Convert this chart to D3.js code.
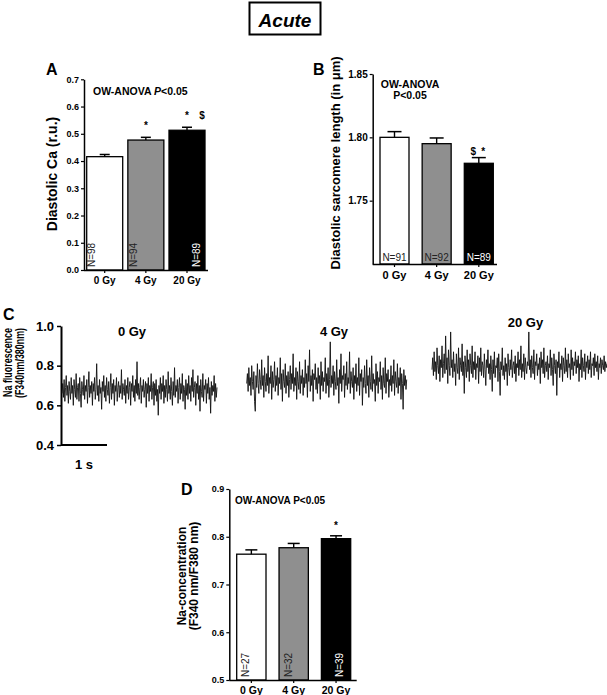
<!DOCTYPE html>
<html><head><meta charset="utf-8">
<script src="https://cdn.jsdelivr.net/npm/d3@7"></script>
<style>
body{margin:0;background:#fff}
svg{display:block}
text{font-family:"Liberation Sans",Arial,Helvetica,sans-serif}
</style>
</head><body>
<svg id="chart" width="607" height="695"></svg>
<script>
// ---------------- DATA ----------------
const doses = ["0 Gy", "4 Gy", "20 Gy"];

// Panel A: diastolic Ca
const caMean = [0.416, 0.477, 0.513];
const caErr  = [0.008, 0.010, 0.011];
const caN    = ["N=98", "N=94", "N=89"];
const caTicks = [0.0, 0.1, 0.2, 0.3, 0.4, 0.5, 0.6, 0.7];
const caSig  = [[], ["*"], ["*", "$"]];

// Panel B: diastolic sarcomere length
const slMean = [1.800, 1.795, 1.7795];
const slErr  = [0.0045, 0.0045, 0.0045];
const slN    = ["N=91", "N=92", "N=89"];
const slTicks = [1.75, 1.80, 1.85];
const slSig  = [[], [], ["$", "*"]];

// Panel D: Na concentration
const naMean = [0.7635, 0.777, 0.796];
const naErr  = [0.009, 0.009, 0.006];
const naN    = ["N=27", "N=32", "N=39"];
const naTicks = [0.5, 0.6, 0.7, 0.8, 0.9];
const naSig  = [[], [], ["*"]];

// Panel C: Na fluorescence traces (F340/F380)
const traceTicks = [0.4, 0.6, 0.8, 1.0];
const traceLabels = ["0 Gy", "4 Gy", "20 Gy"];
const trace0 = [
0.66,0.71,0.64,0.73,0.62,0.69,0.75,0.65,0.70,0.61,0.72,0.67,0.63,0.74,0.66,0.70,0.60,0.73,0.68,0.64,
0.76,0.63,0.69,0.71,0.62,0.74,0.66,0.59,0.72,0.68,0.65,0.75,0.63,0.70,0.67,0.73,0.61,0.69,0.77,0.64,
0.70,0.66,0.72,0.60,0.71,0.67,0.74,0.63,0.68,0.81,0.65,0.70,0.62,0.73,0.66,0.69,0.58,0.72,0.67,0.75,
0.64,0.70,0.62,0.74,0.68,0.65,0.72,0.61,0.69,0.76,0.63,0.71,0.66,0.73,0.60,0.70,0.67,0.74,0.62,0.69,
0.72,0.64,0.70,0.66,0.78,0.63,0.71,0.68,0.65,0.73,0.61,0.70,0.66,0.74,0.63,0.69,0.72,0.60,0.71,0.67,
0.75,0.64,0.70,0.62,0.73,0.66,0.82,0.65,0.71,0.63,0.69,0.74,0.61,0.70,0.67,0.73,0.64,0.68,0.72,0.59,
0.71,0.66,0.74,0.62,0.70,0.67,0.76,0.63,0.69,0.72,0.60,0.71,0.65,0.73,0.62,0.68,0.55,0.70,0.66,0.74,
0.63,0.71,0.67,0.75,0.61,0.70,0.64,0.73,0.68,0.62,0.77,0.66,0.70,0.63,0.74,0.67,0.60,0.72,0.65,0.79,
0.64,0.70,0.67,0.73,0.61,0.69,0.74,0.63,0.71,0.66,0.76,0.62,0.70,0.68,0.58,0.73,0.65,0.71,0.63,0.75,
0.66,0.70,0.62,0.74,0.67,0.78,0.64,0.69,0.72,0.60,0.71,0.66,0.75,0.63,0.70,0.57,0.73,0.67,0.64,0.76,
0.62,0.70,0.68,0.73,0.61,0.71,0.66,0.74,0.63,0.69,0.56,0.72,0.65,0.70,0.67,0.75,0.62,0.71,0.64,0.69];
const trace4 = [
0.71,0.76,0.67,0.79,0.70,0.74,0.65,0.80,0.72,0.68,0.77,0.62,0.57,0.75,0.69,0.81,0.71,0.66,0.78,0.73,
0.68,0.83,0.70,0.75,0.64,0.79,0.72,0.67,0.76,0.70,0.85,0.66,0.74,0.71,0.80,0.63,0.77,0.69,0.73,0.82,
0.67,0.75,0.70,0.79,0.65,0.74,0.71,0.84,0.68,0.76,0.62,0.78,0.72,0.69,0.81,0.66,0.75,0.70,0.77,0.64,
0.73,0.80,0.68,0.76,0.71,0.86,0.67,0.74,0.70,0.79,0.63,0.77,0.72,0.68,0.82,0.66,0.75,0.71,0.78,0.65,
0.74,0.69,0.83,0.71,0.76,0.64,0.80,0.72,0.88,0.67,0.75,0.70,0.78,0.62,0.76,0.73,0.81,0.68,0.74,0.66,
0.79,0.71,0.75,0.63,0.82,0.70,0.77,0.67,0.74,0.72,0.84,0.66,0.76,0.70,0.79,0.64,0.73,0.92,0.69,0.75,
0.71,0.80,0.65,0.77,0.72,0.68,0.83,0.70,0.74,0.61,0.78,0.71,0.86,0.67,0.75,0.73,0.80,0.64,0.76,0.70,
0.82,0.68,0.74,0.71,0.87,0.66,0.77,0.72,0.69,0.79,0.63,0.75,0.71,0.81,0.67,0.74,0.70,0.84,0.65,0.76,
0.72,0.78,0.60,0.74,0.69,0.80,0.71,0.66,0.83,0.70,0.75,0.64,0.79,0.72,0.68,0.85,0.67,0.76,0.71,0.73,
0.62,0.81,0.70,0.77,0.66,0.74,0.72,0.82,0.68,0.75,0.63,0.79,0.71,0.69,0.84,0.66,0.76,0.72,0.78,0.64,
0.73,0.70,0.80,0.67,0.75,0.71,0.83,0.65,0.77,0.72,0.69,0.81,0.66,0.74,0.70,0.79,0.63,0.76,0.71,0.58,
0.78,0.70,0.75,0.68,0.73];
const trace20 = [
0.78,0.84,0.75,0.87,0.77,0.82,0.73,0.89,0.80,0.76,0.85,0.72,0.83,0.79,0.90,0.74,0.81,0.86,0.76,0.95,
0.78,0.84,0.71,0.88,0.80,0.75,0.97,0.79,0.83,0.74,0.87,0.77,0.81,0.70,0.86,0.79,0.76,0.89,0.73,0.84,
0.80,0.77,0.91,0.75,0.82,0.66,0.85,0.79,0.74,0.88,0.77,0.83,0.72,0.86,0.80,0.76,0.90,0.74,0.82,0.78,
0.87,0.73,0.81,0.79,0.85,0.71,0.84,0.77,0.89,0.75,0.82,0.80,0.74,0.86,0.78,0.70,0.83,0.79,0.88,0.76,
0.81,0.73,0.85,0.78,0.67,0.83,0.76,0.87,0.74,0.80,0.79,0.84,0.72,0.86,0.77,0.65,0.82,0.78,0.89,0.75,
0.80,0.73,0.84,0.77,0.81,0.70,0.86,0.79,0.75,0.83,0.78,0.88,0.74,0.80,0.82,0.76,0.85,0.72,0.81,0.79,
0.87,0.75,0.83,0.78,0.90,0.74,0.81,0.77,0.86,0.73,0.84,0.79,0.76,0.82,0.80,0.97,0.78,0.83,0.74,0.85,
0.79,0.76,0.88,0.73,0.82,0.80,0.86,0.75,0.81,0.78,0.84,0.71,0.87,0.79,0.83,0.76,0.89,0.74,0.80,0.82,
0.77,0.85,0.73,0.81,0.79,0.88,0.75,0.84,0.78,0.70,0.86,0.80,0.76,0.83,0.65,0.82,0.79,0.87,0.74,0.81,
0.78,0.85,0.72,0.84,0.80,0.76,0.89,0.77,0.83,0.74,0.86,0.79,0.81,0.73,0.88,0.78,0.84,0.75,0.82,0.80,
0.87,0.76,0.83,0.79,0.85,0.72,0.81,0.78,0.88,0.74,0.84,0.80,0.77,0.86,0.73,0.82,0.79,0.85,0.76,0.83,
0.78,0.87,0.74,0.81,0.80,0.84,0.75,0.86,0.79,0.82,0.77,0.85,0.73,0.81,0.79,0.84,0.76,0.83,0.80,0.78,
0.85,0.77,0.82,0.79,0.81];

// ---------------- DRAWING ----------------
const svg = d3.select("#chart");
const FONT = '"Liberation Sans",Arial,Helvetica,sans-serif';
const barFills = ["#ffffff", "#8f8f8f", "#000000"];
const nColors = ["#222", "#222", "#fff"];

// Title
svg.append("rect").attr("x", 249.5).attr("y", 2.5).attr("width", 71).attr("height", 32)
  .attr("fill", "none").attr("stroke", "#000").attr("stroke-width", 2);
svg.append("text").attr("x", 285).attr("y", 26.5).attr("text-anchor", "middle")
  .attr("font-size", 19).attr("font-weight", "bold").attr("font-style", "italic").text("Acute");

function barPanel(o) {
  const g = svg.append("g");
  const y = d3.scaleLinear().domain(o.domain).range([o.yBottom, o.yTop]);
  const x = d3.scaleBand().domain(doses).range([o.x0, o.x1]).paddingInner(o.pad).paddingOuter(0);
  const bw = x.bandwidth();

  g.selectAll("rect.bar").data(o.mean).join("rect").attr("class", "bar")
    .attr("x", (d, i) => x(doses[i])).attr("y", d => y(d))
    .attr("width", bw).attr("height", d => o.yBottom - y(d))
    .attr("fill", (d, i) => barFills[i]).attr("stroke", "#000").attr("stroke-width", 1.3);

  o.mean.forEach((m, i) => {
    const cx = x(doses[i]) + bw / 2;
    g.append("line").attr("x1", cx).attr("x2", cx).attr("y1", y(m)).attr("y2", y(m + o.err[i]))
      .attr("stroke", "#000").attr("stroke-width", 1.4);
    g.append("line").attr("x1", cx - o.cap).attr("x2", cx + o.cap)
      .attr("y1", y(m + o.err[i])).attr("y2", y(m + o.err[i]))
      .attr("stroke", "#000").attr("stroke-width", 1.5);
  });

  const ya = g.append("g").attr("transform", `translate(${o.axisX},0)`)
    .call(d3.axisLeft(y).tickValues(o.ticks).tickFormat(d3.format(o.fmt)).tickSize(3).tickSizeOuter(0).tickPadding(2));
  ya.select(".domain").attr("stroke-width", 1.5);
  ya.selectAll(".tick line").attr("stroke-width", 1.2);
  ya.selectAll(".tick text").attr("font-family", FONT).attr("font-weight", "bold")
    .attr("font-size", o.tickFont).attr("fill", "#000");

  const xa = g.append("g").attr("transform", `translate(0,${o.yBottom})`)
    .call(d3.axisBottom(x).tickSize(3).tickSizeOuter(0).tickPadding(o.xPad));
  xa.select(".domain").attr("d", `M${o.axisX},0.5H${o.axisEnd}`).attr("stroke-width", 1.5);
  xa.selectAll(".tick line").attr("stroke-width", 1.2);
  xa.selectAll(".tick text").attr("font-family", FONT).attr("font-weight", "bold")
    .attr("font-size", o.xFont).attr("fill", "#000");

  o.n.forEach((t, i) => {
    const left = x(doses[i]);
    if (o.nRotate) {
      g.append("text").attr("transform", `translate(${left + o.nOff[i]},${o.yBottom - 3}) rotate(-90)`)
        .attr("dominant-baseline", "central").attr("font-size", o.nFont).attr("fill", nColors[i]).text(t);
    } else {
      g.append("text").attr("x", left + bw / 2).attr("y", o.yBottom - 3)
        .attr("text-anchor", "middle").attr("font-size", o.nFont).attr("fill", nColors[i]).text(t);
    }
  });

  o.sig.forEach((arr, i) => {
    arr.forEach((s, k) => {
      g.append("text").attr("x", x(doses[i]) + bw / 2 + o.sigOff[i][k]).attr("y", o.sigY[i])
        .attr("text-anchor", "middle").attr("font-weight", "bold").attr("font-size", o.sigFont).text(s);
    });
  });
  return g;
}

// ---- Panel A ----
barPanel({
  domain: [0, 0.7], yBottom: 270, yTop: 79.3, x0: 86.7, x1: 205, pad: 0.125,
  axisX: 84, axisEnd: 208, mean: caMean, err: caErr, n: caN, ticks: caTicks, fmt: ".1f",
  tickFont: 9, xFont: 10, xPad: 4, nRotate: true, nOff: [5, 6, 27.5], nFont: 10, cap: 5,
  sig: caSig, sigOff: [[], [0], [0, 15]], sigY: [0, 129, 119], sigFont: 10
});
svg.append("text").attr("x", 46).attr("y", 75).attr("font-size", 16).attr("font-weight", "bold").text("A");
svg.append("text").attr("transform", "translate(57,174) rotate(-90)").attr("text-anchor", "middle")
  .attr("font-size", 14).attr("font-weight", "bold").text("Diastolic Ca (r.u.)");
{
  const t = svg.append("text").attr("x", 93).attr("y", 95).attr("font-size", 10.5).attr("font-weight", "bold");
  t.append("tspan").text("OW-ANOVA ");
  t.append("tspan").attr("font-style", "italic").text("P");
  t.append("tspan").text("<0.05");
}

// ---- Panel B ----
barPanel({
  domain: [1.70, 1.85], yBottom: 264, yTop: 74, x0: 380, x1: 493.3, pad: 0.312,
  axisX: 372.7, axisEnd: 497, mean: slMean, err: slErr, n: slN, ticks: slTicks, fmt: ".2f",
  tickFont: 10, xFont: 11, xPad: 4, nRotate: false, nFont: 10, cap: 7,
  sig: slSig, sigOff: [[], [], [-5.5, 4.5]], sigY: [0, 0, 155], sigFont: 10
});
svg.append("text").attr("x", 313).attr("y", 75).attr("font-size", 16).attr("font-weight", "bold").text("B");
svg.append("text").attr("transform", "translate(340,163) rotate(-90)").attr("text-anchor", "middle")
  .attr("font-size", 13).attr("font-weight", "bold").text("Diastolic sarcomere length (in \u03bcm)");
svg.append("text").attr("x", 410).attr("y", 87.5).attr("text-anchor", "middle")
  .attr("font-size", 10.5).attr("font-weight", "bold").text("OW-ANOVA");
svg.append("text").attr("x", 410).attr("y", 98.8).attr("text-anchor", "middle")
  .attr("font-size", 10.5).attr("font-weight", "bold").text("P<0.05");

// ---- Panel D ----
barPanel({
  domain: [0.5, 0.9], yBottom: 680, yTop: 489, x0: 236.7, x1: 350.7, pad: 0.308,
  axisX: 229.3, axisEnd: 356.7, mean: naMean, err: naErr, n: naN, ticks: naTicks, fmt: ".1f",
  tickFont: 9, xFont: 10.5, xPad: 4, nRotate: true, nOff: [8.5, 9, 18.5], nFont: 10, cap: 6,
  sig: naSig, sigOff: [[], [], [0]], sigY: [0, 0, 529], sigFont: 10
});
svg.append("text").attr("x", 181).attr("y", 495).attr("font-size", 16).attr("font-weight", "bold").text("D");
svg.append("text").attr("transform", "translate(186,576) rotate(-90)").attr("text-anchor", "middle")
  .attr("font-size", 12).attr("font-weight", "bold").text("Na-concentration");
svg.append("text").attr("transform", "translate(197.5,576) rotate(-90)").attr("text-anchor", "middle")
  .attr("font-size", 12).attr("font-weight", "bold").text("(F340 nm/F380 nm)");
svg.append("text").attr("x", 235).attr("y", 504).attr("font-size", 10).attr("font-weight", "bold")
  .text("OW-ANOVA P<0.05");

// ---- Panel C ----
{
  const g = svg.append("g");
  const y = d3.scaleLinear().domain([0.4, 1.0]).range([445, 326]);
  const axisX = 61;
  const ya = g.append("g").attr("transform", `translate(${axisX},0)`)
    .call(d3.axisLeft(y).tickValues(traceTicks).tickFormat(d3.format(".1f")).tickSize(4).tickSizeOuter(0).tickPadding(3));
  ya.select(".domain").attr("stroke-width", 2);
  ya.selectAll(".tick line").attr("stroke-width", 1.5);
  ya.selectAll(".tick text").attr("font-family", FONT).attr("font-weight", "bold").attr("font-size", 13).attr("fill", "#000");

  const t = d3.scaleLinear().domain([0, 1]).range([axisX, 107]);
  g.append("line").attr("x1", t(0)).attr("x2", t(1)).attr("y1", y(0.4)).attr("y2", y(0.4))
    .attr("stroke", "#000").attr("stroke-width", 2);
  g.append("text").attr("x", (t(0) + t(1)) / 2).attr("y", 469).attr("text-anchor", "middle")
    .attr("font-size", 13).attr("font-weight", "bold").text("1 s");

  const traces = [trace0, trace4, trace20];
  const spans = [[62, 217], [246.7, 406.7], [432, 607]];
  const labelPos = [[132, 336], [334, 335.5], [525.5, 326.5]];
  traces.forEach((tr, k) => {
    const x = d3.scaleLinear().domain([0, tr.length - 1]).range(spans[k]);
    const line = d3.line().x((d, i) => x(i)).y(d => y(d));
    g.append("path").attr("d", line(tr)).attr("fill", "none").attr("stroke", "#111").attr("stroke-width", 0.9);
    g.append("text").attr("x", labelPos[k][0]).attr("y", labelPos[k][1]).attr("text-anchor", "middle")
      .attr("font-size", 13).attr("font-weight", "bold").text(traceLabels[k]);
  });

  svg.append("text").attr("x", 3).attr("y", 320).attr("font-size", 16).attr("font-weight", "bold").text("C");
  svg.append("text").attr("transform", "translate(12,362.5) rotate(-90)").attr("text-anchor", "middle")
    .attr("font-size", 12).attr("font-weight", "bold").attr("textLength", 69).attr("lengthAdjust", "spacingAndGlyphs")
    .text("Na fluorescence");
  svg.append("text").attr("transform", "translate(23.5,363) rotate(-90)").attr("text-anchor", "middle")
    .attr("font-size", 12).attr("font-weight", "bold").attr("textLength", 70).attr("lengthAdjust", "spacingAndGlyphs")
    .text("(F340nm/380nm)");
}
</script>
</body></html>
